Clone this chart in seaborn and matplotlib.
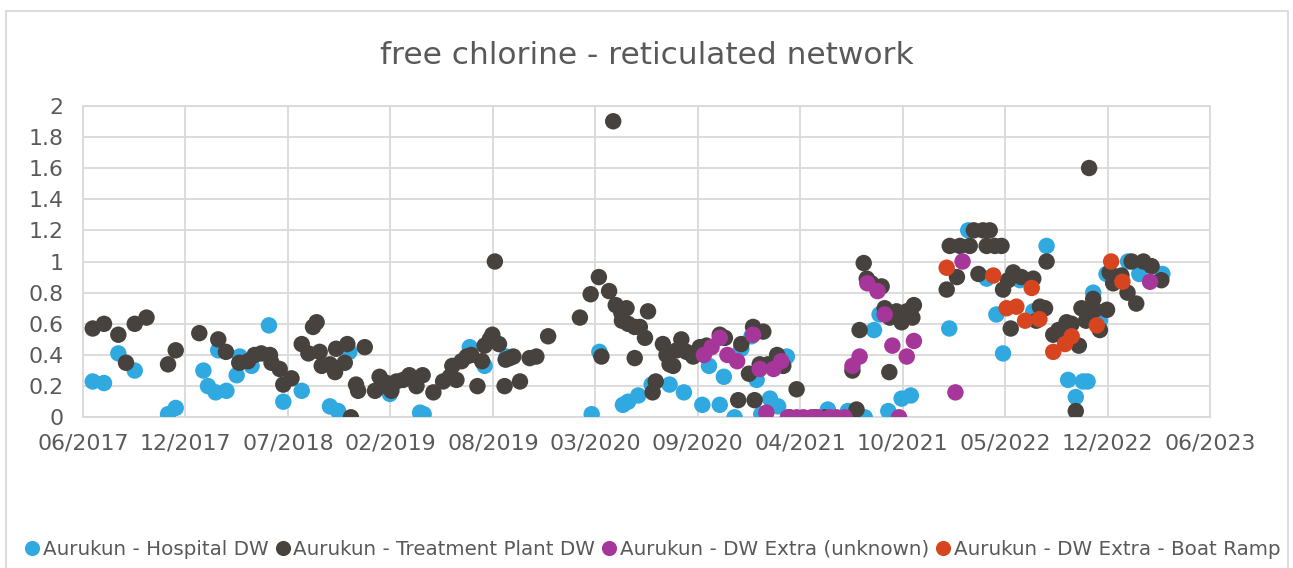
import numpy as np
import pandas as pd
import matplotlib
matplotlib.use("Agg")
import matplotlib.pyplot as plt
import matplotlib.dates as mdates
from matplotlib.patches import Rectangle
import seaborn as sns

# series shown on the chart
series_names = ["Aurukun - Hospital DW", "Aurukun - Treatment Plant DW",
                "Aurukun - DW Extra (unknown)", "Aurukun - DW Extra - Boat Ramp"]
series_colors = ["#2FA9E0", "#48423E", "#A6369A", "#D6451F"]

y_ticks = [0, 0.2, 0.4, 0.6, 0.8, 1.0, 1.2, 1.4, 1.6, 1.8, 2.0]
y_tick_labels = ["0", "0.2", "0.4", "0.6", "0.8", "1", "1.2", "1.4", "1.6", "1.8", "2"]

hosp_dates = [
    "2017-07-03", "2017-07-25", "2017-08-22", "2017-09-23", "2017-11-27", "2017-12-12",
    "2018-02-04", "2018-02-13", "2018-02-28", "2018-03-05", "2018-03-21", "2018-04-10",
    "2018-04-16", "2018-05-09", "2018-06-12", "2018-07-10", "2018-08-15", "2018-10-09",
    "2018-10-25", "2018-11-16", "2019-02-03", "2019-04-03", "2019-04-10", "2019-07-09",
    "2019-08-07", "2019-09-19", "2020-03-03", "2020-03-18", "2020-05-03", "2020-05-13",
    "2020-06-02", "2020-06-28", "2020-08-02", "2020-08-30", "2020-10-05", "2020-10-18",
    "2020-11-08", "2020-11-16", "2020-12-07", "2020-12-20", "2021-01-09", "2021-01-19",
    "2021-01-28", "2021-02-14", "2021-03-02", "2021-03-19", "2021-06-07", "2021-07-16",
    "2021-08-18", "2021-09-05", "2021-09-16", "2021-10-03", "2021-10-29", "2021-11-16",
    "2022-01-30", "2022-03-08", "2022-04-13", "2022-05-02", "2022-05-15", "2022-06-17",
    "2022-07-13", "2022-08-08", "2022-09-19", "2022-10-04", "2022-10-18", "2022-10-27",
    "2022-11-07", "2022-11-20", "2022-12-03", "2023-01-14", "2023-02-05", "2023-03-22",
]
hosp_vals = [
    0.23, 0.22, 0.41, 0.30, 0.02, 0.06,
    0.30, 0.20, 0.16, 0.43, 0.17, 0.27,
    0.39, 0.33, 0.59, 0.10, 0.17, 0.07,
    0.04, 0.42, 0.15, 0.03, 0.02, 0.45,
    0.33, 0.39, 0.02, 0.42, 0.08, 0.10,
    0.14, 0.21, 0.21, 0.16, 0.08, 0.33,
    0.08, 0.26, 0.00, 0.44, 0.52, 0.24,
    0.02, 0.12, 0.07, 0.39, 0.05, 0.04,
    0.00, 0.56, 0.66, 0.04, 0.12, 0.14,
    0.57, 1.20, 0.89, 0.66, 0.41, 0.88,
    0.68, 1.10, 0.24, 0.13, 0.23, 0.23,
    0.80, 0.62, 0.92, 1.00, 0.92, 0.92,
]

plant_dates = [
    "2017-07-03", "2017-07-25", "2017-08-22", "2017-09-06", "2017-09-23", "2017-10-16",
    "2017-11-27", "2017-12-12", "2018-01-27", "2018-03-05", "2018-03-20", "2018-04-15",
    "2018-05-02", "2018-05-15", "2018-05-28", "2018-06-14", "2018-06-17", "2018-07-03",
    "2018-07-10", "2018-07-26", "2018-08-15", "2018-08-28", "2018-09-06", "2018-09-13",
    "2018-09-19", "2018-09-23", "2018-10-09", "2018-10-19", "2018-10-21", "2018-11-07",
    "2018-11-12", "2018-11-19", "2018-11-29", "2018-12-03", "2018-12-16", "2019-01-05",
    "2019-01-14", "2019-01-18", "2019-01-28", "2019-02-06", "2019-02-16", "2019-03-01",
    "2019-03-13", "2019-03-27", "2019-04-08", "2019-04-29", "2019-05-18", "2019-05-31",
    "2019-06-05", "2019-06-13", "2019-06-23", "2019-07-03", "2019-07-12", "2019-07-24",
    "2019-08-02", "2019-08-07", "2019-08-17", "2019-08-22", "2019-08-27", "2019-09-04",
    "2019-09-15", "2019-09-17", "2019-09-25", "2019-10-02", "2019-10-15", "2019-11-03",
    "2019-11-16", "2019-12-09", "2020-02-09", "2020-03-01", "2020-03-17", "2020-03-22",
    "2020-04-06", "2020-04-14", "2020-04-19", "2020-04-30", "2020-05-01", "2020-05-10",
    "2020-05-13", "2020-05-26", "2020-05-26", "2020-06-05", "2020-06-15", "2020-06-21",
    "2020-06-30", "2020-07-06", "2020-07-20", "2020-07-27", "2020-08-02", "2020-08-09",
    "2020-08-16", "2020-08-25", "2020-09-04", "2020-09-17", "2020-09-30", "2020-10-13",
    "2020-11-08", "2020-11-18", "2020-12-14", "2020-12-20", "2021-01-04", "2021-01-12",
    "2021-01-15", "2021-01-25", "2021-02-01", "2021-02-10", "2021-02-28", "2021-03-12",
    "2021-03-25", "2021-04-07", "2021-05-13", "2021-06-01", "2021-07-25", "2021-08-02",
    "2021-08-08", "2021-08-16", "2021-08-22", "2021-08-31", "2021-09-20", "2021-09-26",
    "2021-10-05", "2021-10-06", "2021-10-19", "2021-10-29", "2021-11-08", "2021-11-19",
    "2021-11-22", "2022-01-25", "2022-01-31", "2022-02-14", "2022-02-20", "2022-03-11",
    "2022-03-19", "2022-03-28", "2022-04-06", "2022-04-13", "2022-04-19", "2022-04-29",
    "2022-05-12", "2022-05-15", "2022-05-25", "2022-05-30", "2022-06-04", "2022-06-20",
    "2022-07-13", "2022-07-19", "2022-07-26", "2022-08-05", "2022-08-08", "2022-08-21",
    "2022-08-31", "2022-09-16", "2022-09-26", "2022-10-04", "2022-10-10", "2022-10-15",
    "2022-10-24", "2022-10-30", "2022-11-07", "2022-11-10", "2022-11-20", "2022-12-04",
    "2022-12-09", "2022-12-16", "2023-01-01", "2023-01-13", "2023-01-21", "2023-01-30",
    "2023-02-13", "2023-03-01", "2023-03-20",
]
plant_vals = [
    0.57, 0.60, 0.53, 0.35, 0.60, 0.64,
    0.34, 0.43, 0.54, 0.50, 0.42, 0.35,
    0.36, 0.40, 0.41, 0.40, 0.35, 0.31,
    0.21, 0.25, 0.47, 0.41, 0.58, 0.61,
    0.42, 0.33, 0.34, 0.29, 0.44, 0.35,
    0.47, 0.00, 0.21, 0.17, 0.45, 0.17,
    0.26, 0.20, 0.22, 0.17, 0.23, 0.24,
    0.27, 0.20, 0.27, 0.16, 0.23, 0.26,
    0.33, 0.24, 0.36, 0.39, 0.40, 0.20,
    0.36, 0.46, 0.50, 0.53, 1.00, 0.47,
    0.20, 0.37, 0.38, 0.39, 0.23, 0.38,
    0.39, 0.52, 0.64, 0.79, 0.90, 0.39,
    0.81, 1.90, 0.72, 0.67, 0.62, 0.70,
    0.60, 0.58, 0.38, 0.58, 0.51, 0.68,
    0.16, 0.23, 0.47, 0.40, 0.34, 0.33,
    0.43, 0.50, 0.42, 0.39, 0.45, 0.46,
    0.53, 0.51, 0.11, 0.47, 0.28, 0.58,
    0.11, 0.34, 0.55, 0.34, 0.40, 0.33,
    0.00, 0.18, 0.00, 0.00, 0.30, 0.05,
    0.56, 0.99, 0.89, 0.86, 0.84, 0.70,
    0.29, 0.64, 0.68, 0.61, 0.68, 0.64,
    0.72, 0.82, 1.10, 0.90, 1.10, 1.10,
    1.20, 0.92, 1.20, 1.10, 1.20, 1.10,
    1.10, 0.82, 0.88, 0.57, 0.93, 0.90,
    0.89, 0.62, 0.71, 0.70, 1.00, 0.53,
    0.56, 0.61, 0.60, 0.04, 0.46, 0.70,
    0.62, 1.60, 0.76, 0.69, 0.56, 0.69,
    0.93, 0.86, 0.91, 0.80, 1.00, 0.73,
    1.00, 0.97, 0.88,
]

unknown_dates = [
    "2020-10-08", "2020-10-23", "2020-11-08", "2020-11-23", "2020-12-12", "2021-01-12",
    "2021-01-25", "2021-02-07", "2021-02-21", "2021-03-08", "2021-03-21", "2021-04-07",
    "2021-04-20", "2021-05-06", "2021-05-19", "2021-06-11", "2021-06-24", "2021-07-10",
    "2021-07-25", "2021-08-08", "2021-08-23", "2021-09-12", "2021-09-26", "2021-10-11",
    "2021-10-24", "2021-11-08", "2021-11-22", "2022-02-11", "2022-02-25", "2023-02-26",
]
unknown_vals = [
    0.40, 0.45, 0.51, 0.40, 0.36, 0.53,
    0.31, 0.03, 0.31, 0.36, 0.00, 0.00,
    0.00, 0.00, 0.00, 0.00, 0.00, 0.00,
    0.33, 0.39, 0.86, 0.81, 0.66, 0.46,
    0.00, 0.39, 0.49, 0.16, 1.00, 0.87,
]

boat_dates = [
    "2022-01-25", "2022-04-26", "2022-05-22", "2022-06-10", "2022-06-27", "2022-07-10",
    "2022-07-25", "2022-08-21", "2022-09-13", "2022-09-26", "2022-11-14", "2022-12-12",
    "2023-01-03",
]
boat_vals = [
    0.96, 0.91, 0.70, 0.71, 0.62, 0.83,
    0.63, 0.42, 0.47, 0.52, 0.59, 1.00,
    0.87,
]

# long table for seaborn, series kept in drawing order
frames = []
for name, d, v in zip(series_names,
                      [hosp_dates, plant_dates, unknown_dates, boat_dates],
                      [hosp_vals, plant_vals, unknown_vals, boat_vals]):
    frames.append(pd.DataFrame({"date": pd.to_datetime(d), "value": v, "site": name}))
df = pd.concat(frames, ignore_index=True)

sns.set_style("white")
plt.rcParams["font.family"] = ["DejaVu Sans"]

grey = "#595959"
grid_col = "#D9D9D9"

fig = plt.figure(figsize=(12.93, 5.68), dpi=100)
ax = fig.add_axes([83 / 1293, 1 - 417.3 / 568, 1127 / 1293, 311.6 / 568])

sns.scatterplot(data=df, x="date", y="value", hue="site",
                palette=dict(zip(series_names, series_colors)),
                s=140, linewidth=0, ax=ax, zorder=3)

# Excel style date axis: 200 day steps
x_ticks = pd.date_range("2017-06-14", periods=12, freq="200D")
ax.set_xlim(x_ticks[0], x_ticks[-1])
ax.set_xticks(x_ticks)
ax.xaxis.set_major_formatter(mdates.DateFormatter("%m/%Y"))
ax.set_ylim(0, 2)
ax.set_yticks(y_ticks)
ax.set_yticklabels(y_tick_labels)
ax.set_xlabel("")
ax.set_ylabel("")

ax.set_axisbelow(True)
ax.grid(True, color=grid_col, linewidth=1.3)
for sp in ax.spines.values():
    sp.set_visible(True)
    sp.set_color(grid_col)
    sp.set_linewidth(1.3)
ax.tick_params(axis="both", length=0, labelsize=15.8, labelcolor=grey)
ax.tick_params(axis="y", pad=14)
ax.tick_params(axis="x", pad=12)

fig.text(0.5, 1 - 64.5 / 568, "free chlorine - reticulated network",
         ha="center", va="baseline", fontsize=22.5, color=grey)

sns.move_legend(ax, "center", bbox_to_anchor=(652 / 1293, 0.033),
                bbox_transform=fig.transFigure, ncol=4, title=None,
                frameon=False, fontsize=14.3, handletextpad=0.1,
                columnspacing=0.3, handlelength=0.85, borderpad=0,
                markerscale=0.92, labelcolor=grey)

# chart area border
fig.patches.append(Rectangle((5.5 / 1293, -0.05), (1288 - 5.5) / 1293,
                             1.05 - 10.7 / 568, transform=fig.transFigure,
                             fill=False, edgecolor=grid_col, linewidth=1.3))

fig.savefig("out.png", dpi=100)
